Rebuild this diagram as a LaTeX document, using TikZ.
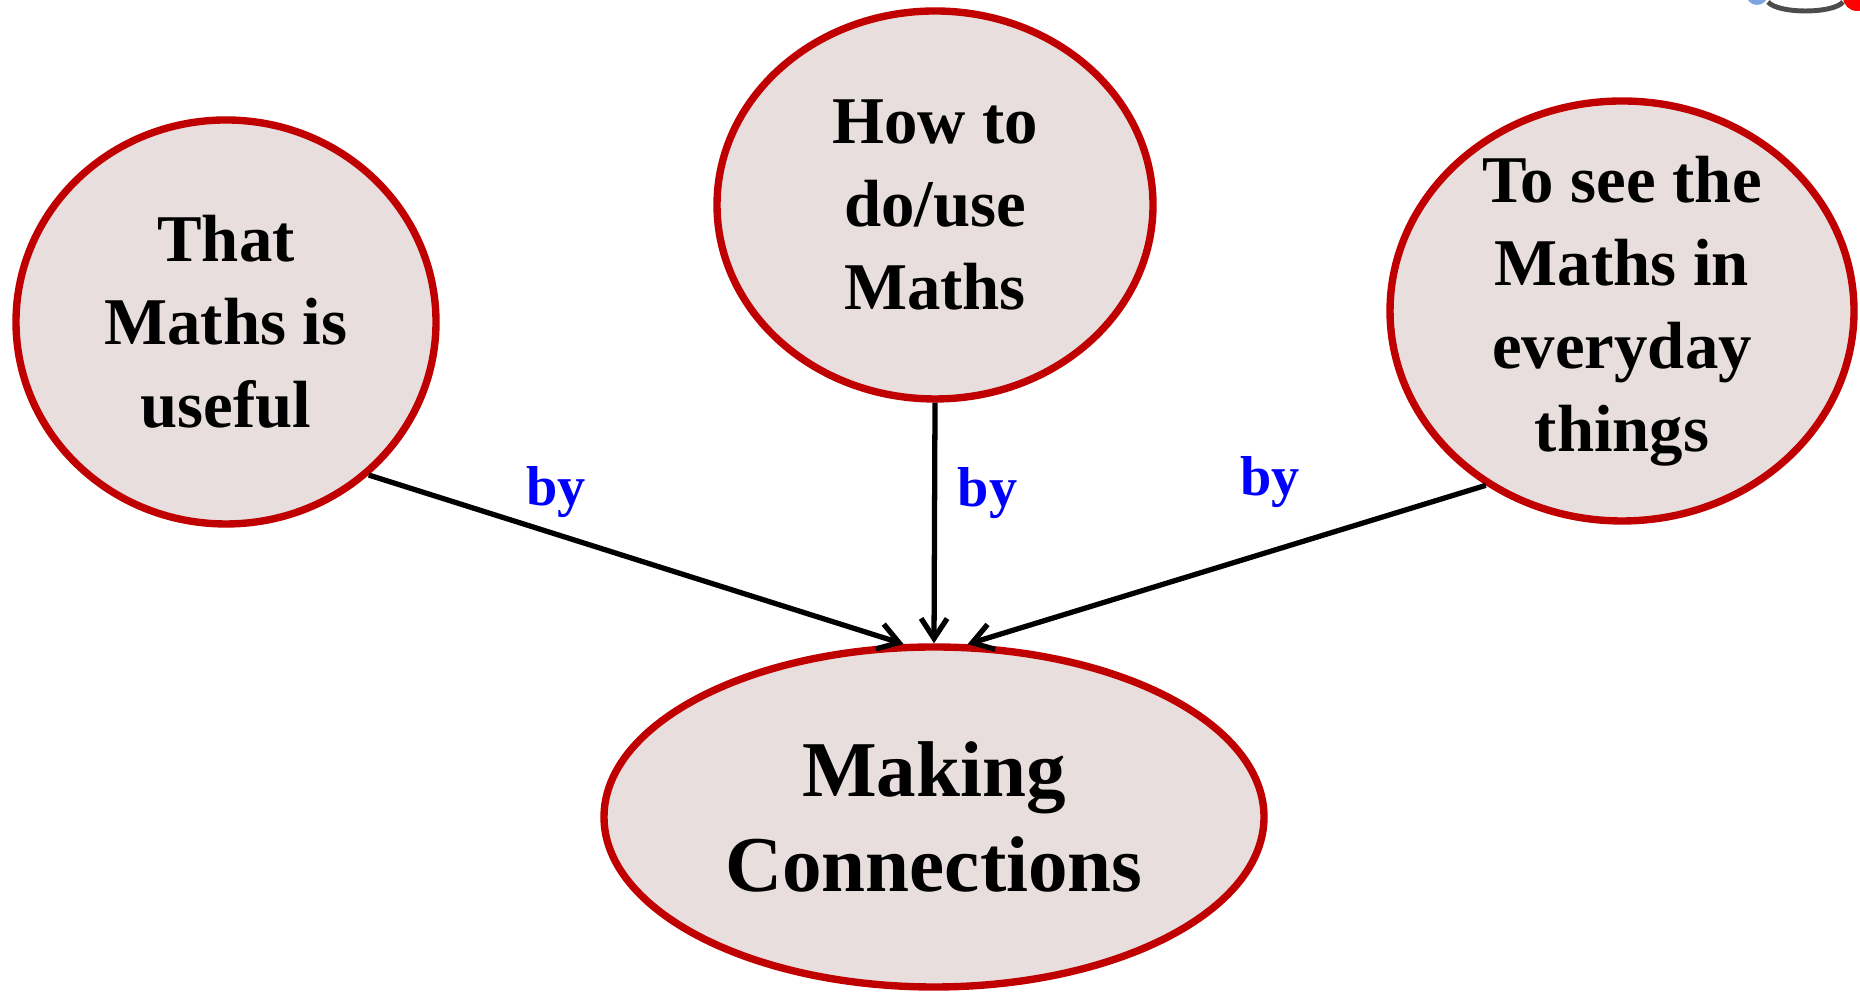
\documentclass[tikz,border=0pt]{standalone}
\usepackage{fontspec}
\setmainfont{Liberation Serif}
\usetikzlibrary{shapes.geometric, arrows.meta}
\definecolor{conceptred}{RGB}{192,0,0}
\definecolor{conceptfill}{RGB}{232,222,222}
\definecolor{iconblue}{RGB}{125,165,225}

\begin{document}
\begin{tikzpicture}[
    concept/.style     = {ellipse, draw=conceptred, line width=2.1pt, fill=conceptfill, inner sep=0pt},
    concepttext/.style = {align=center, font=\fontsize{19}{23.6}\selectfont\bfseries},
    bigtext/.style     = {align=center, font=\fontsize{22.5}{27}\selectfont\bfseries},
    arrow/.style       = {-{Straight Barb[length=2mm, width=2.6mm]}, line width=1.5pt},
    bylabel/.style     = {text=blue, font=\fontsize{16}{19}\selectfont\bfseries, inner sep=1pt}
]
\useasboundingbox (0,0) rectangle (18.6,9.94);
\node[concept, minimum width=4.20cm, minimum height=4.04cm,
      label={[concepttext]center:That\\Maths is\\useful}]              (useful)   at (2.26,6.72) {};
\node[concept, minimum width=4.36cm, minimum height=3.88cm,
      label={[concepttext]center:How to\\do/use\\Maths}]               (howto)    at (9.35,7.89) {};
\node[concept, minimum width=4.64cm, minimum height=4.20cm,
      label={[concepttext]center:To see the\\Maths in\\everyday\\things}] (everyday) at (16.22,6.83) {};
\node[concept, minimum width=6.60cm, minimum height=3.40cm,
      label={[bigtext]center:Making\\Connections}]                     (making)   at (9.34,1.77) {};
\draw[arrow] (useful.-47.5) -- node[bylabel, pos=0.35, above=0.1cm] (by1) {by} (making.100.8);
\draw[arrow] (howto.south) -- node[bylabel, pos=0.374, right=0.17cm] (by2) {by} (making.north);
\draw[arrow] (everyday.-128.3) -- node[bylabel, pos=0.416, above=0.38cm] (by3) {by} (making.79);
% corner of the logo
\begin{scope}
  \clip (0,0) rectangle (18.6,9.94);
  \fill[iconblue] (17.57,10.0) circle (0.11);
  \fill[red] (18.57,9.97) circle (0.14);
  \draw[line width=1.4pt, black!70] (17.68,9.92) .. controls (17.78,9.80) and (18.33,9.80) .. (18.43,9.92);
\end{scope}
\end{tikzpicture}
\end{document}
